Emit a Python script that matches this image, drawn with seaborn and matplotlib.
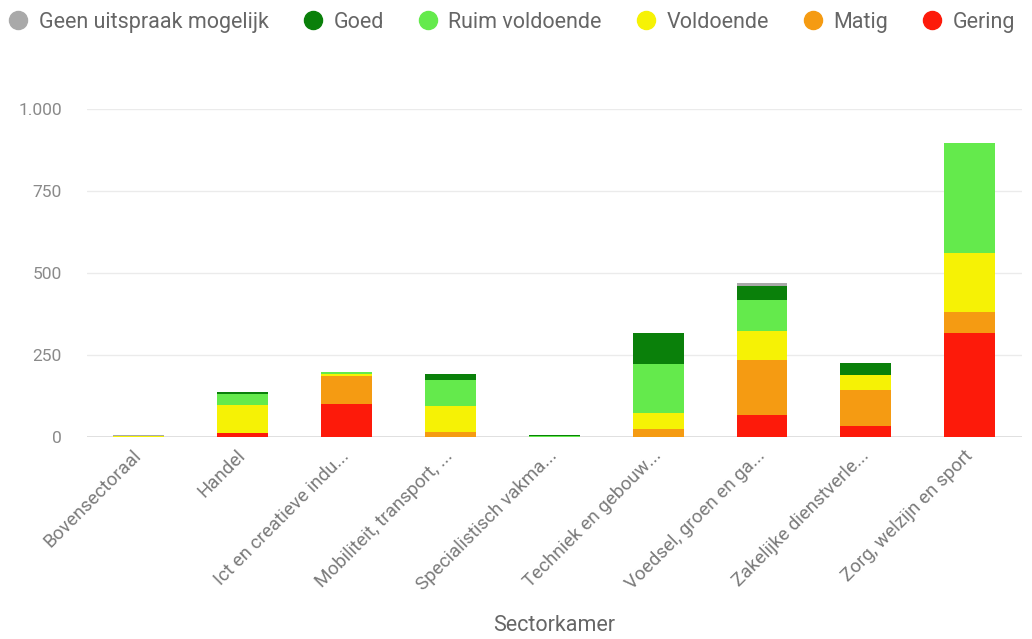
import matplotlib
matplotlib.use("Agg")
import matplotlib.pyplot as plt
from matplotlib.lines import Line2D
from matplotlib.ticker import FuncFormatter
import pandas as pd
import seaborn as sns

# Sectors (x-axis) and status categories (stack segments)
sectors = [
    "Bovensectoraal",
    "Handel",
    "Ict en creatieve indu...",
    "Mobiliteit, transport, ...",
    "Specialistisch vakma...",
    "Techniek en gebouw...",
    "Voedsel, groen en ga...",
    "Zakelijke dienstverle...",
    "Zorg, welzijn en sport",
]
statuses = ["Geen uitspraak mogelijk", "Goed", "Ruim voldoende", "Voldoende", "Matig", "Gering"]

geen_uitspraak = [3, 0, 0, 0, 0, 0, 9, 0, 0]
goed           = [0, 5, 0, 18, 3, 95, 42, 36, 0]
ruim_voldoende = [0, 36, 5, 79, 3, 151, 96, 0, 337]
voldoende      = [3, 85, 8, 79, 0, 49, 88, 47, 178]
matig          = [0, 0, 84, 15, 0, 22, 167, 109, 65]
gering         = [0, 10, 100, 0, 0, 0, 66, 33, 316]

colors = {
    "Geen uitspraak mogelijk": "#a9a9a9",
    "Goed": "#0a800a",
    "Ruim voldoende": "#64ea4c",
    "Voldoende": "#f6f205",
    "Matig": "#f59b12",
    "Gering": "#fd1a0a",
}

series = {
    "Geen uitspraak mogelijk": geen_uitspraak,
    "Goed": goed,
    "Ruim voldoende": ruim_voldoende,
    "Voldoende": voldoende,
    "Matig": matig,
    "Gering": gering,
}
rows = []
for status, vals in series.items():
    for sector, v in zip(sectors, vals):
        rows.append({"sector": sector, "status": status, "value": v})
df = pd.DataFrame(rows)
df["sector"] = pd.Categorical(df["sector"], categories=sectors, ordered=True)

sns.set_theme(style="white")
plt.rcParams["font.family"] = ["Roboto", "DejaVu Sans"]

fig = plt.figure(figsize=(10.32, 6.39), dpi=100)
ax = fig.add_axes([0.0843, 0.3169, 0.9057, 0.5125])

sns.histplot(
    data=df, x="sector", weights="value", hue="status", hue_order=statuses,
    multiple="stack", discrete=True, shrink=0.49, palette=colors,
    linewidth=0, alpha=1, legend=False, ax=ax,
)

ax.set_xlim(-0.5, len(sectors) - 0.5)
ax.set_ylim(0, 1000)
ax.set_yticks([0, 250, 500, 750, 1000])
ax.yaxis.set_major_formatter(FuncFormatter(lambda v, p: f"{int(v):,}".replace(",", ".")))
ax.grid(axis="y", color="#ebebeb", linewidth=1)
ax.set_axisbelow(True)
for s in ax.spines.values():
    s.set_visible(False)
ax.axhline(0, color="#d8d8d8", linewidth=1.2, zorder=0)

ax.tick_params(axis="y", length=0, pad=18, labelsize=12.5, labelcolor="#8a8a8a")
ax.tick_params(axis="x", length=0, pad=12, labelsize=13.5, labelcolor="#7a7a7a")
ax.set_xticks(range(len(sectors)))
ax.set_xticklabels(sectors, rotation=45, ha="right", va="center", rotation_mode="anchor")
ax.set_ylabel("")
ax.set_xlabel("Sectorkamer", fontsize=15.5, color="#666666", labelpad=15)

handles = [
    Line2D([0], [0], marker="o", linestyle="none", markersize=13,
           markerfacecolor=colors[s], markeredgecolor=colors[s])
    for s in statuses
]
fig.legend(
    handles, statuses, loc="upper left", bbox_to_anchor=(-0.004, 1.0), ncol=6,
    frameon=False, fontsize=15.5, labelcolor="#666666", handletextpad=0.45,
    columnspacing=1.55, borderaxespad=0.25, borderpad=0.3, handlelength=1.0,
)

fig.savefig("out.png", dpi=100)
